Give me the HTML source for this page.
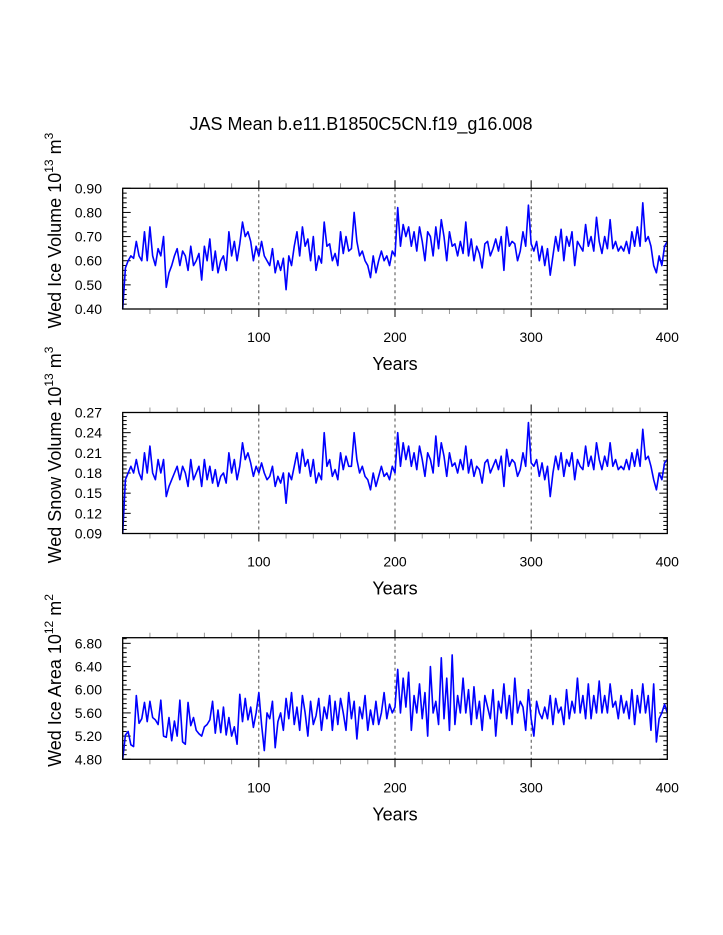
<!DOCTYPE html>
<html><head><meta charset="utf-8"><style>
html,body{margin:0;padding:0;background:#fff;}
svg{display:block;font-family:"Liberation Sans",sans-serif;}
</style></head><body>
<svg id="chart" width="723" height="935" viewBox="0 0 723 935" xmlns="http://www.w3.org/2000/svg">
<text x="361" y="130" text-anchor="middle" font-size="18">JAS Mean b.e11.B1850C5CN.f19_g16.008</text>
</svg>
<script>
const years = []; for (let y = 0; y <= 400; y += 2) years.push(y);
const xTicks = [100, 200, 300, 400];
const iceVolume = [0.40,0.57,0.60,0.62,0.61,0.68,0.62,0.60,0.72,0.60,0.74,0.62,0.58,0.65,0.62,0.70,0.49,0.55,0.58,0.62,0.65,0.58,0.64,0.62,0.56,0.66,
0.58,0.60,0.63,0.52,0.66,0.60,0.69,0.56,0.64,0.55,0.60,0.62,0.56,0.72,0.62,0.68,0.60,0.67,0.76,0.70,0.72,0.68,0.60,0.66,0.62,
0.68,0.62,0.60,0.58,0.65,0.55,0.60,0.56,0.61,0.48,0.62,0.58,0.66,0.72,0.62,0.74,0.66,0.69,0.60,0.70,0.56,0.62,0.59,0.76,0.66,
0.67,0.60,0.63,0.58,0.72,0.63,0.70,0.64,0.65,0.80,0.68,0.62,0.64,0.60,0.58,0.53,0.62,0.55,0.60,0.64,0.60,0.62,0.58,0.64,0.62,
0.82,0.66,0.75,0.70,0.74,0.66,0.72,0.64,0.74,0.68,0.60,0.72,0.70,0.62,0.74,0.65,0.77,0.70,0.60,0.72,0.66,0.67,0.62,0.68,0.63,
0.76,0.62,0.69,0.60,0.66,0.63,0.57,0.67,0.68,0.62,0.65,0.69,0.64,0.70,0.56,0.74,0.66,0.68,0.67,0.60,0.64,0.72,0.66,0.83,0.67,
0.64,0.68,0.60,0.66,0.58,0.65,0.54,0.62,0.70,0.64,0.73,0.60,0.70,0.66,0.72,0.58,0.68,0.66,0.64,0.75,0.66,0.70,0.64,0.78,0.68,
0.63,0.70,0.65,0.77,0.65,0.68,0.64,0.66,0.64,0.68,0.63,0.72,0.66,0.74,0.66,0.84,0.68,0.70,0.66,0.58,0.55,0.62,0.58,0.66,0.68];
const snowVolume = [0.09,0.17,0.18,0.19,0.18,0.20,0.18,0.17,0.21,0.18,0.22,0.18,0.17,0.20,0.18,0.20,0.145,0.16,0.17,0.18,0.19,0.17,0.19,0.18,0.16,0.20,
0.17,0.18,0.19,0.16,0.20,0.17,0.19,0.165,0.185,0.16,0.175,0.18,0.165,0.21,0.18,0.20,0.17,0.19,0.225,0.20,0.21,0.195,0.175,0.19,0.18,
0.195,0.18,0.17,0.175,0.19,0.16,0.175,0.165,0.18,0.135,0.18,0.17,0.19,0.21,0.18,0.215,0.19,0.20,0.175,0.20,0.165,0.18,0.17,0.24,0.19,
0.20,0.175,0.185,0.17,0.21,0.185,0.205,0.19,0.19,0.24,0.20,0.18,0.19,0.175,0.17,0.155,0.18,0.16,0.175,0.19,0.175,0.18,0.17,0.19,0.18,
0.24,0.19,0.225,0.20,0.22,0.19,0.21,0.185,0.22,0.20,0.175,0.21,0.20,0.18,0.235,0.19,0.225,0.205,0.175,0.21,0.19,0.195,0.18,0.20,0.185,
0.22,0.18,0.20,0.175,0.19,0.185,0.165,0.195,0.20,0.18,0.19,0.20,0.185,0.205,0.16,0.215,0.19,0.20,0.195,0.175,0.185,0.21,0.19,0.255,0.195,
0.19,0.20,0.175,0.195,0.17,0.19,0.145,0.18,0.205,0.185,0.21,0.175,0.20,0.19,0.21,0.17,0.20,0.19,0.185,0.22,0.19,0.205,0.185,0.225,0.20,
0.185,0.205,0.19,0.225,0.19,0.20,0.185,0.19,0.185,0.20,0.185,0.21,0.19,0.215,0.19,0.245,0.20,0.205,0.19,0.17,0.155,0.18,0.17,0.195,0.20];
const iceArea = [4.80,5.22,5.28,5.05,5.02,5.90,5.42,5.50,5.78,5.45,5.80,5.52,5.48,5.40,5.82,5.20,5.18,5.52,5.12,5.46,5.20,5.82,5.10,5.06,5.78,5.38,
5.52,5.30,5.24,5.20,5.36,5.40,5.48,5.80,5.25,5.65,5.26,5.70,5.22,5.52,5.20,5.36,5.06,5.92,5.45,5.85,5.48,5.70,5.35,5.60,5.95,
5.40,4.95,5.60,5.50,5.80,5.00,5.45,5.60,5.30,5.85,5.50,5.95,5.40,5.70,5.30,5.90,5.60,5.20,5.80,5.40,5.55,5.85,5.30,5.70,5.50,
5.90,5.30,5.80,5.40,5.85,5.60,5.30,5.95,5.50,5.80,5.15,5.70,5.50,5.90,5.30,5.65,5.40,5.80,5.40,5.60,5.95,5.50,5.75,5.60,5.70,
6.35,5.60,6.20,5.70,6.30,5.30,5.90,5.60,6.10,5.50,5.95,5.20,6.40,5.60,5.80,5.40,6.55,5.50,6.20,5.30,6.60,5.40,5.90,5.60,6.20,
5.60,6.00,5.40,6.05,5.50,5.80,5.30,5.90,5.70,5.50,6.00,5.20,5.80,5.60,6.10,5.50,5.90,5.40,6.20,5.60,5.80,5.70,5.30,6.00,5.50,
5.20,5.80,5.60,5.50,5.70,5.50,5.90,5.40,5.85,5.60,5.70,5.40,6.00,5.50,5.80,5.60,6.20,5.60,5.90,5.50,6.10,5.50,5.90,5.60,6.15,
5.60,5.90,5.60,6.10,5.70,5.80,5.50,5.90,5.60,5.80,5.50,6.00,5.40,5.90,5.60,6.10,5.60,5.90,5.30,6.10,5.10,5.50,5.60,5.75,5.60];
const ticks1 = [0.40,0.50,0.60,0.70,0.80,0.90];
const ticks2 = [0.09,0.12,0.15,0.18,0.21,0.24,0.27];
const ticks3 = [4.80,5.20,5.60,6.00,6.40,6.80];

const NS = "http://www.w3.org/2000/svg";
const svg = document.getElementById('chart');
function mk(tag, attrs, parent) {
  const e = document.createElementNS(NS, tag);
  for (const k in attrs) e.setAttribute(k, attrs[k]);
  (parent || svg).appendChild(e);
  return e;
}
const L = 122.7, R = 667.3;
const xs = y => L + (y / 400) * (R - L);

function panel(cfg) {
  const g = mk('g', {});
  
  
  const T = cfg.top, B = cfg.bottom;
  const ys = v => B - (v - cfg.min) / (cfg.max - cfg.min) * (B - T);
  // dashed gridlines
  xTicks.slice(0, 3).forEach(t => {
    const d = mk('line', {x1: xs(t), x2: xs(t), y1: T, y2: B, stroke: '#000', 'stroke-width': 0.7, 'stroke-dasharray': '3,3'}, g);
    
    
  });
  // x minor/major ticks outward
  for (let t = 20; t < 400; t += 20) {
    const major = t % 100 === 0;
    const col = major ? '#000' : '#999';
    const len = major ? 8 : 5;
    mk('line', {x1: xs(t), x2: xs(t), y1: T, y2: T - len, stroke: col, 'stroke-width': 1}, g);
    mk('line', {x1: xs(t), x2: xs(t), y1: B, y2: B + len, stroke: col, 'stroke-width': 1}, g);
  }
  // y ticks inward
  const step = (cfg.yt[1] - cfg.yt[0]) / 5;
  for (let v = cfg.yt[0]; v <= cfg.max + 1e-9; v += step) {
    const isMajor = cfg.yt.some(t => Math.abs(t - v) < 1e-6);
    const len = isMajor ? 8 : 4;
    const y = ys(v);
    mk('line', {x1: L, x2: L + len, y1: y, y2: y, stroke: '#000', 'stroke-width': 1}, g);
    mk('line', {x1: R, x2: R - len, y1: y, y2: y, stroke: '#000', 'stroke-width': 1}, g);
  }
  cfg.yt.forEach(t => {
    const tx = mk('text', {x: 102, y: ys(t) + 5, 'text-anchor': 'end', 'font-size': 14}, g);
    tx.textContent = t.toFixed(2);
    
    
  });
  xTicks.forEach(t => {
    const tx = mk('text', {x: xs(t), y: B + 33, 'text-anchor': 'middle', 'font-size': 14}, g);
    tx.textContent = t;
    
    
  });
  const xt = mk('text', {x: 395, y: B + 61, 'text-anchor': 'middle', 'font-size': 18}, g);
  xt.textContent = 'Years';
  
  
  const cy = (T + B) / 2 - 18;
  const yt = mk('text', {x: 0, y: 0, transform: `translate(61,${cy}) rotate(-90)`, 'text-anchor': 'middle', 'font-size': 18}, g);
  yt.innerHTML = cfg.label + ' 10<tspan dy="-8" font-size="12">' + cfg.exp + '</tspan><tspan dy="8"> m</tspan><tspan dy="-8" font-size="12">' + cfg.unit + '</tspan>';
  
  
  // series
  const pts = cfg.data.map((v, i) => xs(years[i]).toFixed(2) + ',' + ys(v).toFixed(2)).join(' ');
  const pl = mk('polyline', {points: pts, fill: 'none', stroke: '#0000ff', 'stroke-width': 1.6, 'stroke-linejoin': 'round'}, g);
  
  
  const fr = mk('rect', {x: L, y: T, width: R - L, height: B - T, fill: 'none', stroke: '#000', 'stroke-width': 1.3}, g);
  
  
}
panel({name: 'ice-volume-panel', top: 188.3, bottom: 309, min: 0.40, max: 0.90, yt: ticks1, data: iceVolume, label: 'Wed Ice Volume', exp: '13', unit: '3'});
panel({name: 'snow-volume-panel', top: 412.5, bottom: 533.5, min: 0.09, max: 0.27, yt: ticks2, data: snowVolume, label: 'Wed Snow Volume', exp: '13', unit: '3'});
panel({name: 'ice-area-panel', top: 637.7, bottom: 759.3, min: 4.80, max: 6.897, yt: ticks3, data: iceArea, label: 'Wed Ice Area', exp: '12', unit: '2'});
</script>
</body></html>
